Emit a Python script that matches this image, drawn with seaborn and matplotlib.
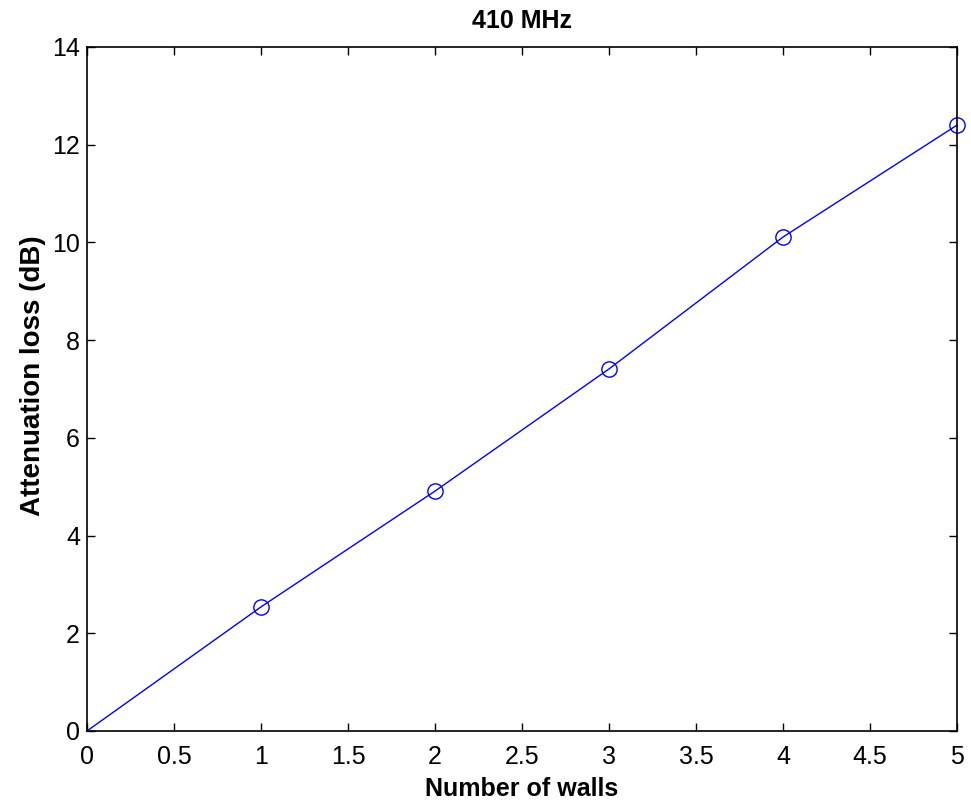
import matplotlib
matplotlib.use("Agg")
import matplotlib.pyplot as plt
import seaborn as sns
import pandas as pd

# ---------------- DATA ----------------
walls = [0, 1, 2, 3, 4, 5]
loss_db = [0, 2.54, 4.91, 7.41, 10.11, 12.40]

df = pd.DataFrame({"walls": walls, "loss": loss_db})

sns.set_theme(style="white")
plt.rcParams['font.family'] = ['Liberation Sans', 'DejaVu Sans']
plt.rcParams['text.color'] = 'black'
plt.rcParams['axes.labelcolor'] = 'black'

fig = plt.figure(figsize=(9.71, 8.07), dpi=100)
ax = fig.add_axes([0.0896, 0.0942, 0.8960, 0.8476])

sns.lineplot(data=df, x="walls", y="loss", color="blue", linewidth=1,
             marker="o", markersize=11, markerfacecolor="none",
             markeredgecolor="blue", markeredgewidth=1,
             markevery=list(range(1, len(walls))), clip_on=False, ax=ax)

ax.set_xlim(0, 5)
ax.set_ylim(0, 14)
ax.set_xticks([0, 0.5, 1, 1.5, 2, 2.5, 3, 3.5, 4, 4.5, 5])
ax.set_xticklabels(["0", "0.5", "1", "1.5", "2", "2.5", "3", "3.5", "4", "4.5", "5"])
ax.set_yticks(range(0, 15, 2))

ax.tick_params(direction="in", length=6, width=1, labelsize=18, colors="black",
               top=True, right=True, bottom=True, left=True)
ax.tick_params(axis="x", pad=10)
ax.tick_params(axis="y", pad=5)
for s in ax.spines.values():
    s.set_color("black")
    s.set_linewidth(1.2)

ax.set_title("410 MHz", fontsize=18, fontweight="bold", pad=14)
ax.set_xlabel("Number of walls", fontsize=18, fontweight="bold", labelpad=6)
ax.set_ylabel("Attenuation loss (dB)", fontsize=20, fontweight="bold")
ax.yaxis.set_label_coords(-0.047, 0.52)

fig.savefig("out.png", dpi=100)
